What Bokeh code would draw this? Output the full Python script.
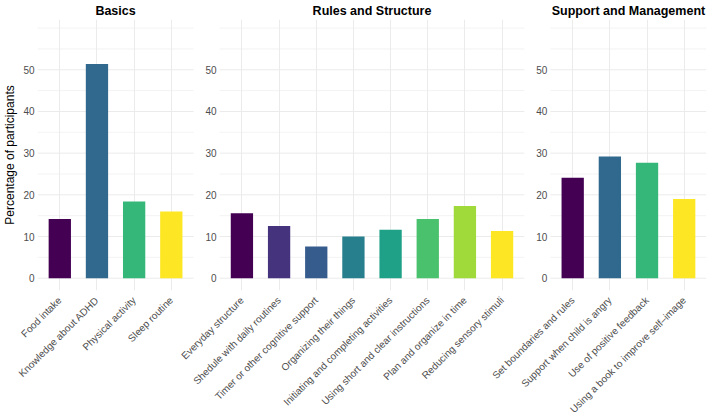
from math import pi

from bokeh.core.properties import value
from bokeh.embed import file_html
from bokeh.models import ColumnDataSource, FixedTicker, LinearAxis, Range1d
from bokeh.plotting import figure
from bokeh.resources import INLINE

# Share of participants (%) naming each topic, per theme
basics_labels = ["Food intake", "Knowledge about ADHD", "Physical activity", "Sleep routine"]
basics_values = [14.2, 51.4, 18.4, 16.0]

rules_labels = [
    "Everyday structure",
    "Shedule with daily routines",
    "Timer or other cognitive support",
    "Organizing their things",
    "Initiating and completing activities",
    "Using short and clear instructions",
    "Plan and organize in time",
    "Reducing sensory stimuli",
]
rules_values = [15.6, 12.5, 7.6, 10.0, 11.6, 14.2, 17.3, 11.3]

support_labels = [
    "Set boundaries and rules",
    "Support when child is angry",
    "Use of positive feedback",
    "Using a book to improve self\u2013image",
]
support_values = [24.1, 29.2, 27.7, 19.0]

theme_titles = ["Basics", "Rules and Structure", "Support and Management"]

y_ticks = [0, 10, 20, 30, 40, 50]
y_minor = [5, 15, 25, 35, 45, 55, 60]

# viridis palettes
VIRIDIS4 = ["#440154", "#31688E", "#35B779", "#FDE725"]
VIRIDIS8 = ["#440154", "#46337E", "#365C8D", "#277F8E",
            "#1FA187", "#4AC16D", "#9FDA3A", "#FDE725"]

FONT = "Liberation Sans"
GRID = "#EBEBEB"
TICK_COLOR = "#4D4D4D"

# x layout in integer units: one category = 10 units, bars 6 wide,
# 6 units of padding inside each panel, 7 units between panels
CAT, BAR_W, PAD, GAP = 10, 6, 6, 7

all_values = basics_values + rules_values + support_values
y_lim_top = max(all_values) * 1.15
y_pad = 0.05 * y_lim_top
Y_START, Y_END = -y_pad, y_lim_top + y_pad

groups = [
    (basics_labels, basics_values, VIRIDIS4),
    (rules_labels, rules_values, VIRIDIS8),
    (support_labels, support_values, VIRIDIS4),
]

bar_x, bar_top, bar_color, tick_labels = [], [], [], {}
panel_edges, title_pos = [], {}
cursor = 4
for (labels, values, colors), title in zip(groups, theme_titles):
    left = cursor
    right = left + 2 * PAD + CAT * (len(labels) - 1)
    for i, (lab, v, c) in enumerate(zip(labels, values, colors)):
        x = left + PAD + CAT * i
        bar_x.append(x)
        bar_top.append(v)
        bar_color.append(c)
        tick_labels[x] = lab
    panel_edges.append((left, right))
    title_pos[(left + right) // 2] = title
    cursor = right + GAP

X_START, X_END = panel_edges[0][0], panel_edges[-1][1]

p = figure(
    frame_width=669,
    frame_height=271,
    x_range=Range1d(X_START, X_END),
    y_range=Range1d(Y_START, Y_END),
    output_backend="svg",
    toolbar_location=None,
    min_border_left=35,
    min_border_right=5,
    min_border_top=19,
    min_border_bottom=125,
)
p.outline_line_color = None
p.background_fill_color = "white"
p.border_fill_color = "white"

bottom_axis = p.xaxis[0]
left_axis = p.yaxis[0]

# horizontal grid lines, drawn panel by panel
gx0, gx1, gy, gw = [], [], [], []
for left, right in panel_edges:
    for t in y_ticks:
        gx0.append(left); gx1.append(right); gy.append(t); gw.append(1.0)
    for t in y_minor:
        if t not in y_ticks:
            gx0.append(left); gx1.append(right); gy.append(t); gw.append(0.6)
p.segment(x0="x0", x1="x1", y0="y", y1="y", line_width="w", line_color=GRID,
          source=ColumnDataSource(dict(x0=gx0, x1=gx1, y=gy, w=gw)))
p.ygrid.grid_line_color = None

# bars
p.vbar(x="x", top="top", bottom=0, width=BAR_W, fill_color="color",
       line_color=None,
       source=ColumnDataSource(dict(x=bar_x, top=bar_top, color=bar_color)))

# y tick labels for the second and third panels
lx, ly, lt = [], [], []
for left, _ in panel_edges[1:]:
    for t in y_ticks:
        lx.append(left); ly.append(t); lt.append(str(t))
p.text(x="x", y="y", text="t", source=ColumnDataSource(dict(x=lx, y=ly, t=lt)),
       text_align="right", text_baseline="middle", x_offset=-3,
       text_font=value(FONT), text_font_size="10px", text_color=TICK_COLOR)

# bottom axis: one slanted label per topic
bottom_axis.ticker = FixedTicker(ticks=bar_x)
bottom_axis.major_label_overrides = tick_labels
bottom_axis.major_label_orientation = pi / 4
bottom_axis.major_label_standoff = 8
p.xgrid.grid_line_color = GRID
p.xgrid.grid_line_width = 1

# left axis
left_axis.ticker = FixedTicker(ticks=y_ticks)
left_axis.major_label_standoff = 3
left_axis.axis_label = "Percentage of participants"
left_axis.axis_label_text_font = FONT
left_axis.axis_label_text_font_size = "12px"
left_axis.axis_label_text_font_style = "normal"
left_axis.axis_label_text_color = "#000000"
left_axis.axis_label_text_line_height = 1.0
left_axis.axis_label_standoff = 3

# top axis carries the panel titles
top_axis = LinearAxis(ticker=FixedTicker(ticks=list(title_pos)),
                      major_label_overrides=title_pos)
p.add_layout(top_axis, "above")
top_axis.major_label_text_font = FONT
top_axis.major_label_text_font_size = "12.5px"
top_axis.major_label_text_font_style = "bold"
top_axis.major_label_text_color = "#000000"
top_axis.major_label_text_line_height = 1.0
top_axis.major_label_standoff = 2

for ax in (bottom_axis, left_axis):
    ax.major_label_text_font = FONT
    ax.major_label_text_font_size = "10px"
    ax.major_label_text_color = TICK_COLOR

for ax in (bottom_axis, left_axis, top_axis):
    ax.axis_line_color = None
    ax.major_tick_line_color = None
    ax.minor_tick_line_color = None
    ax.major_tick_out = 0
    ax.major_tick_in = 0
    ax.minor_tick_out = 0
    ax.minor_tick_in = 0

open("out.html", "w").write(file_html(p, INLINE))
